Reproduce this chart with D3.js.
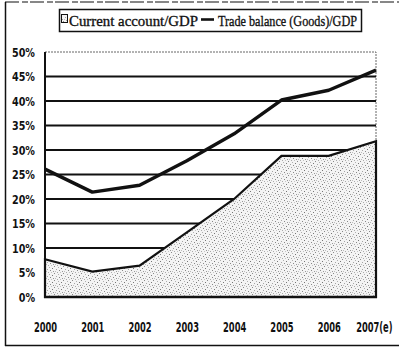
<!DOCTYPE html>
<html>
<head>
<meta charset="utf-8">
<script src="https://cdn.jsdelivr.net/npm/d3@7"></script>
<style>
  html, body { margin: 0; padding: 0; background: #fff; }
  svg { display: block; }
  .tick text { font-family: "Liberation Sans Narrow", "DejaVu Sans Condensed", "DejaVu Sans", sans-serif; font-weight: bold; fill: #111; }
</style>
</head>
<body>
<svg id="chart" width="399" height="349"></svg>
<script>
// Categories and series (share of GDP)
const years = ["2000", "2001", "2002", "2003", "2004", "2005", "2006", "2007(e)"];
const currentAccount = [0.077, 0.052, 0.064, 0.132, 0.200, 0.288, 0.288, 0.318];
const tradeBalance = [0.261, 0.214, 0.228, 0.278, 0.333, 0.402, 0.422, 0.463];
const yTicks = [0, 0.05, 0.10, 0.15, 0.20, 0.25, 0.30, 0.35, 0.40, 0.45, 0.50];
const legendLabels = ["Current account/GDP", "Trade balance (Goods)/GDP"];

const svg = d3.select("#chart");
const plotLeft = 45, plotRight = 376, plotTop = 52, plotBottom = 297;

const x = d3.scalePoint().domain(years).range([plotLeft, plotRight]);
const y = d3.scaleLinear().domain([0, 0.5]).range([plotBottom, plotTop]);

// Narrow a label by compressing its glyphs
function condense(sel, factor) {
  sel.each(function () {
    const w = this.getComputedTextLength();
    d3.select(this).attr("textLength", (w * factor).toFixed(1)).attr("lengthAdjust", "spacingAndGlyphs");
  });
}

// Stipple texture for the area fill
const defs = svg.append("defs");
const pat = defs.append("pattern")
  .attr("id", "stipple").attr("patternUnits", "userSpaceOnUse")
  .attr("width", 9).attr("height", 7);
pat.append("rect").attr("width", 9).attr("height", 7).attr("fill", "#f4f4f4");
const dots = [[0,0,"#8a8a8a"],[4,1,"#b0b0b0"],[7,2,"#777"],[2,3,"#a5a5a5"],[5,4,"#888"],[1,5,"#bdbdbd"],[8,5,"#999"],[3,6,"#aaa"],[6,6,"#c4c4c4"]];
dots.forEach(([dx, dy, c]) => pat.append("rect").attr("x", dx).attr("y", dy).attr("width", 1).attr("height", 1).attr("fill", c));

// Outer frame
const frame = svg.append("g").attr("stroke", "#111").attr("fill", "none");
frame.append("line").attr("x1", 5.5).attr("y1", 2).attr("x2", 5.5).attr("y2", 346).attr("stroke-width", 1.5);
frame.append("line").attr("x1", 5).attr("y1", 345.5).attr("x2", 399).attr("y2", 345.5).attr("stroke-width", 1.5);
frame.append("line").attr("x1", 5).attr("y1", 2).attr("x2", 399).attr("y2", 2)
  .attr("stroke-width", 1.2).attr("stroke-dasharray", "14,3,6,2");

// Plot area border (light dotted)
svg.append("rect")
  .attr("x", plotLeft).attr("y", plotTop).attr("width", plotRight - plotLeft).attr("height", plotBottom - plotTop)
  .attr("fill", "none").attr("stroke", "#666").attr("stroke-width", 1)
  .attr("stroke-dasharray", "2,1");

// Gridlines
svg.append("g").selectAll("line")
  .data(yTicks.filter(t => t > 0 && t < 0.5))
  .join("line")
  .attr("x1", plotLeft).attr("x2", plotRight)
  .attr("y1", d => y(d)).attr("y2", d => y(d))
  .attr("stroke", "#111").attr("stroke-width", 1.8);

// Current account area
const area = d3.area()
  .x((d, i) => x(years[i]))
  .y0(y(0))
  .y1(d => y(d));
svg.append("path")
  .datum(currentAccount)
  .attr("d", area)
  .attr("fill", "url(#stipple)")
  .attr("stroke", "#111").attr("stroke-width", 2.2)
  .attr("stroke-linejoin", "miter");

// Trade balance line
const line = d3.line()
  .x((d, i) => x(years[i]))
  .y(d => y(d));
svg.append("path")
  .datum(tradeBalance)
  .attr("d", line)
  .attr("fill", "none")
  .attr("stroke", "#111").attr("stroke-width", 3.4)
  .attr("stroke-linejoin", "round");

// Y axis line and bottom axis
svg.append("line").attr("x1", plotLeft).attr("x2", plotLeft).attr("y1", plotTop).attr("y2", plotBottom + 1)
  .attr("stroke", "#111").attr("stroke-width", 2);
svg.append("line").attr("x1", plotLeft - 1).attr("x2", plotRight + 1).attr("y1", plotBottom).attr("y2", plotBottom)
  .attr("stroke", "#111").attr("stroke-width", 2.6);

// Y axis labels
const yAxis = svg.append("g")
  .attr("transform", `translate(${plotLeft},0)`)
  .call(d3.axisLeft(y).tickValues(yTicks).tickFormat(d3.format(".0%")).tickSize(0).tickPadding(10));
yAxis.select(".domain").remove();
yAxis.selectAll("text").attr("font-size", 13).call(condense, 0.82);

// X axis labels, narrowed horizontally
const xSquash = 0.66;
const xAxis = svg.append("g")
  .attr("transform", `translate(0,${plotBottom})`)
  .call(d3.axisBottom(x).tickSize(0).tickPadding(25));
xAxis.select(".domain").remove();
xAxis.selectAll("text").attr("font-size", 14).attr("transform", `scale(${xSquash},1)`);
// the last label is right-aligned so it stays inside the frame
xAxis.selectAll(".tick").filter(d => d === years[years.length - 1])
  .select("text").attr("text-anchor", "end").attr("x", 16 / xSquash);

// Legend
const lg = svg.append("g");
lg.append("rect").attr("x", 59.5).attr("y", 9.5).attr("width", 302).attr("height", 22)
  .attr("fill", "#fff").attr("stroke", "#111").attr("stroke-width", 1.5);
lg.append("rect").attr("x", 61.5).attr("y", 14.5).attr("width", 6).attr("height", 8)
  .attr("fill", "url(#stipple)").attr("stroke", "#111").attr("stroke-width", 1);
lg.append("text").attr("x", 69).attr("y", 26)
  .attr("font-family", "Liberation Serif, Times New Roman, serif").attr("font-size", 15.5)
  .attr("textLength", 129).attr("lengthAdjust", "spacingAndGlyphs")
  .attr("fill", "#111").attr("stroke", "#111").attr("stroke-width", 0.35)
  .text(legendLabels[0]);
lg.append("line").attr("x1", 201).attr("x2", 214).attr("y1", 19.5).attr("y2", 19.5)
  .attr("stroke", "#111").attr("stroke-width", 2.6);
lg.append("text").attr("x", 218).attr("y", 26)
  .attr("font-family", "Liberation Serif, Times New Roman, serif").attr("font-size", 15.5)
  .attr("textLength", 139).attr("lengthAdjust", "spacingAndGlyphs")
  .attr("fill", "#111").attr("stroke", "#111").attr("stroke-width", 0.35)
  .text(legendLabels[1]);
</script>
</body>
</html>
